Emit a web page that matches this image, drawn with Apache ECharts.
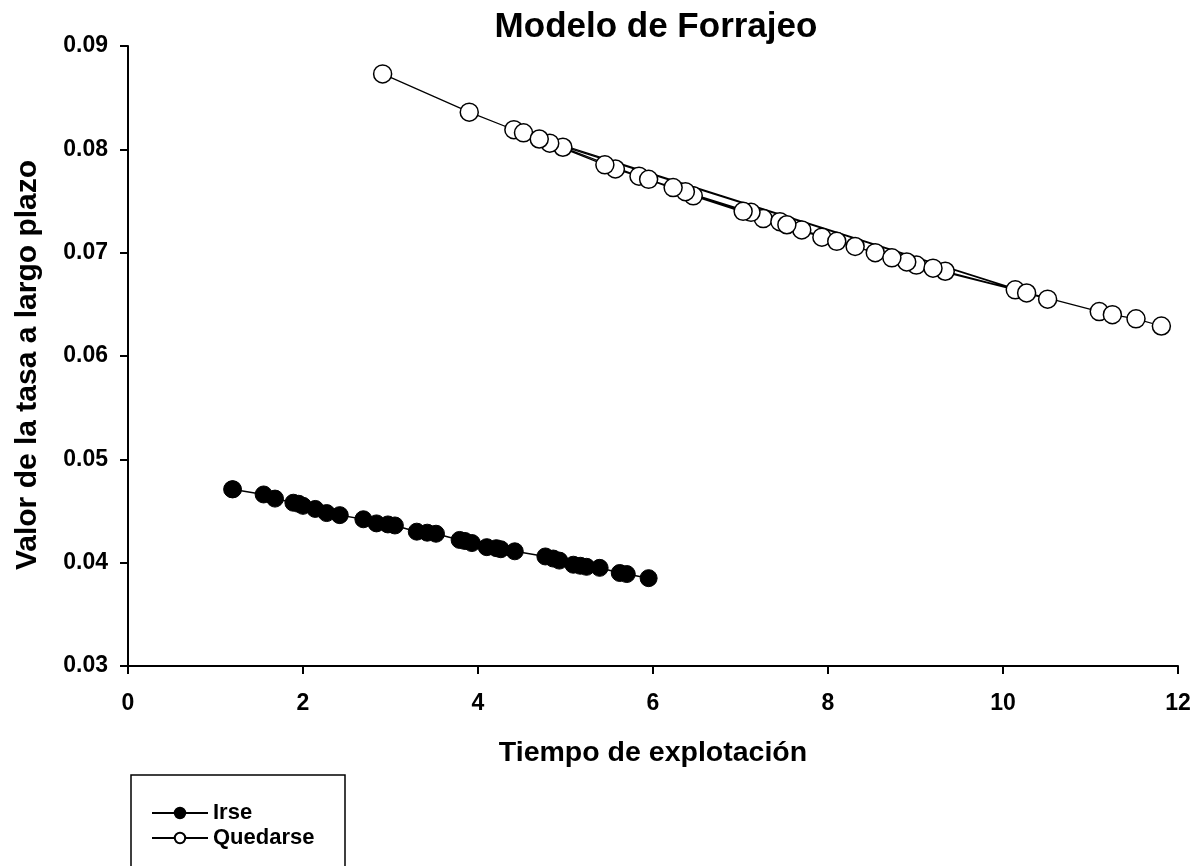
<html>
<head>
    <script src="https://cdn.jsdelivr.net/npm/echarts@6/dist/echarts.min.js"></script>
    <style>
        body { margin: 0; background: #fff; }
        #graph { width: 1199px; height: 866px; }
    </style>
</head>
<body>
    <div id="graph"></div>
    <script>
        // Irse (filled markers)
        var irseX = [1.19, 1.20, 1.55, 1.68, 1.89, 1.95, 2.00, 2.14, 2.27, 2.42, 2.69, 2.84, 2.97, 3.05, 3.30, 3.42, 3.52,
            3.79, 3.85, 3.93, 4.10, 4.21, 4.26, 4.42, 4.77, 4.86, 4.93, 5.09, 5.17, 5.24, 5.39, 5.62, 5.70, 5.95];
        var irseY = [0.0471, 0.0471, 0.0466, 0.0462, 0.0458, 0.0457, 0.0455, 0.0452, 0.0448, 0.0446, 0.0442, 0.0438, 0.0437,
            0.0436, 0.0430, 0.0429, 0.0428, 0.0422, 0.0421, 0.0419, 0.0415, 0.0414, 0.0413, 0.0411, 0.0406, 0.0404,
            0.0402, 0.0398, 0.0397, 0.0396, 0.0395, 0.0390, 0.0389, 0.0385];

        // Quedarse (open markers), kept in the unsorted order the runs were recorded
        var quedarseX = [2.91, 3.90, 4.41, 4.97, 5.84, 6.46, 7.26, 7.93, 8.54, 9.01, 10.14, 10.51,
            4.52, 4.82, 5.57, 6.37, 7.12, 7.70, 8.31, 8.90, 9.34, 10.27,
            4.70, 5.45, 5.95, 6.23, 7.03, 7.45, 7.53, 8.10, 8.73, 9.20, 11.10, 11.25, 11.52, 11.81];
        var quedarseY = [0.0873, 0.0836, 0.0819, 0.0802, 0.0774, 0.0755, 0.0733, 0.0715, 0.0700, 0.0688, 0.0664, 0.0655,
            0.0816, 0.0806, 0.0781, 0.0759, 0.0739, 0.0722, 0.0706, 0.0691, 0.0682, 0.0661,
            0.0810, 0.0785, 0.0771, 0.0763, 0.0740, 0.0730, 0.0727, 0.0711, 0.0695, 0.0685, 0.0643, 0.0640, 0.0636, 0.0629];

        var font = "'Liberation Sans', Arial, sans-serif";

        function pairs(xs, ys) {
            var out = [];
            for (var i = 0; i < xs.length; i++) out.push([xs[i], ys[i]]);
            return out;
        }

        var chart = echarts.init(document.getElementById('graph'));
        var option = {
            animation: false,
            backgroundColor: '#fff',
            title: {
                text: 'Modelo de Forrajeo',
                left: 651,
                textAlign: 'center',
                top: 5,
                textStyle: { fontFamily: font, fontSize: 35, fontWeight: 'bold', color: '#000' }
            },
            legend: {
                orient: 'vertical',
                left: 146,
                top: 797,
                itemWidth: 56,
                itemHeight: 13,
                itemGap: 3,
                textStyle: { fontFamily: font, fontSize: 22, fontWeight: 'bold', color: '#000' },
                data: ['Irse', 'Quedarse']
            },
            graphic: [{
                type: 'rect',
                shape: { x: 131, y: 775, width: 214, height: 130 },
                style: { fill: 'none', stroke: '#000', lineWidth: 1.5 }
            }],
            grid: { left: 128, right: 21, top: 46, bottom: 200, outerBoundsMode: 'none' },
            xAxis: {
                type: 'value',
                min: 0,
                max: 12,
                interval: 2,
                name: 'Tiempo de explotación',
                nameLocation: 'middle',
                nameGap: 73,
                nameTextStyle: { fontFamily: font, fontSize: 28.5, fontWeight: 'bold', color: '#000' },
                axisLine: { lineStyle: { color: '#000', width: 2 } },
                axisTick: { length: 8, lineStyle: { color: '#000', width: 2 } },
                axisLabel: { margin: 26, fontFamily: font, fontSize: 23, fontWeight: 'bold', color: '#000' },
                splitLine: { show: false }
            },
            yAxis: {
                type: 'value',
                min: 0.03,
                max: 0.09,
                interval: 0.01,
                name: 'Valor de la tasa a largo plazo',
                nameLocation: 'middle',
                nameGap: 85,
                nameTextStyle: { fontFamily: font, fontSize: 30, fontWeight: 'bold', color: '#000', padding: [0, 18, 0, 0] },
                axisLine: { show: true, lineStyle: { color: '#000', width: 2 } },
                axisTick: { show: true, length: 8, lineStyle: { color: '#000', width: 2 } },
                axisLabel: {
                    margin: 20, fontFamily: font, fontSize: 23, fontWeight: 'bold', color: '#000',
                    formatter: function (v) { return v.toFixed(2); }
                },
                splitLine: { show: false }
            },
            series: [{
                name: 'Irse',
                type: 'line',
                data: pairs(irseX, irseY),
                symbol: 'circle',
                symbolSize: 17,
                itemStyle: { color: '#000', borderColor: '#000', borderWidth: 1 },
                lineStyle: { color: '#000', width: 1.5 },
                z: 3
            }, {
                name: 'Quedarse',
                type: 'line',
                data: pairs(quedarseX, quedarseY),
                symbol: 'circle',
                symbolSize: 18,
                itemStyle: { color: '#fff', borderColor: '#000', borderWidth: 1.5 },
                lineStyle: { color: '#000', width: 1.2 },
                z: 2
            }]
        };
        chart.setOption(option);
    </script>
</body>
</html>
